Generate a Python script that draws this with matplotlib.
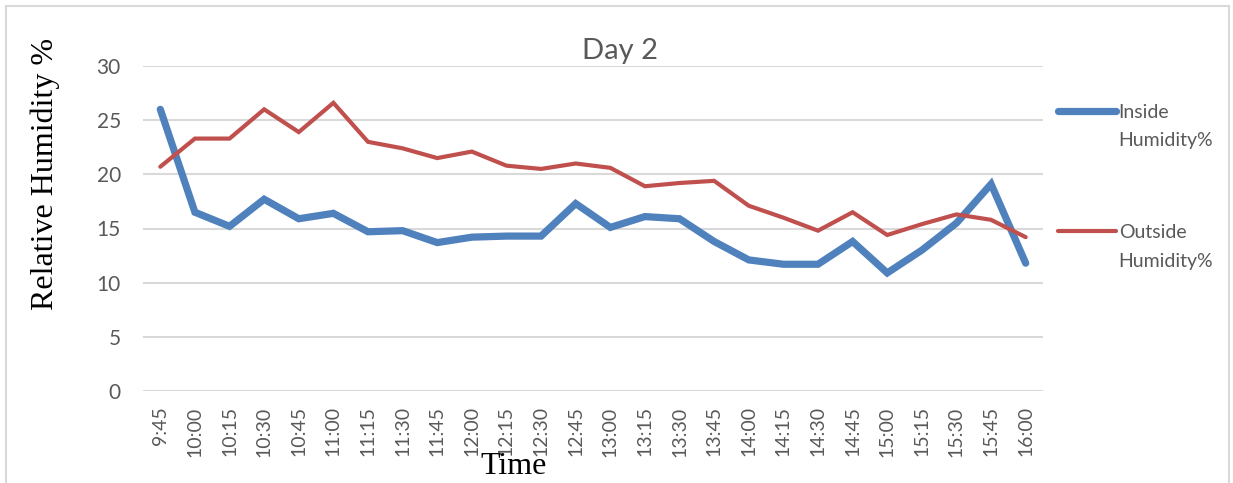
import matplotlib.pyplot as plt
from matplotlib.lines import Line2D

plt.rcParams['font.family'] = ['Lato', 'DejaVu Sans']

# data
times = ['9:45', '10:00', '10:15', '10:30', '10:45', '11:00', '11:15', '11:30',
         '11:45', '12:00', '12:15', '12:30', '12:45', '13:00', '13:15', '13:30',
         '13:45', '14:00', '14:15', '14:30', '14:45', '15:00', '15:15', '15:30',
         '15:45', '16:00']
inside = [26.0, 16.5, 15.2, 17.7, 15.9, 16.4, 14.7, 14.8, 13.7, 14.2, 14.3, 14.3,
          17.3, 15.1, 16.1, 15.9, 13.8, 12.1, 11.7, 11.7, 13.8, 10.9, 13.0, 15.5,
          19.1, 11.8]
outside = [20.7, 23.3, 23.3, 26.0, 23.9, 26.6, 23.0, 22.4, 21.5, 22.1, 20.8, 20.5,
           21.0, 20.6, 18.9, 19.2, 19.4, 17.1, 16.0, 14.8, 16.5, 14.4, 15.4, 16.3,
           15.8, 14.2]
series_names = ['Inside', 'Outside']

grey_txt = '#595959'
W, H = 1233, 483
fig = plt.figure(figsize=(W / 100, H / 100), dpi=100)
ax = fig.add_axes([143 / W, 1 - 391 / H, 900 / W, 325 / H])

x = range(len(times))
ax.plot(x, inside, color='#4F81BD', linewidth=5.2, solid_capstyle='round',
        solid_joinstyle='miter', label=series_names[0])
ax.plot(x, outside, color='#C0504D', linewidth=3.0, solid_capstyle='round',
        solid_joinstyle='miter', label=series_names[1])

ax.set_xlim(-0.5, len(times) - 0.5)
ax.set_ylim(0, 30)
ax.set_yticks(range(0, 31, 5))
ax.set_xticks(list(x))
ax.set_xticklabels(times, rotation=90)
ax.tick_params(axis='both', length=0, colors=grey_txt)
ax.tick_params(axis='x', pad=11, labelsize=14)
ax.tick_params(axis='y', pad=16, labelsize=15)
ax.grid(axis='y', color='#D9D9D9', linewidth=1.5)
ax.set_axisbelow(True)
for s in ax.spines.values():
    s.set_visible(False)

fig.text(620 / W, 1 - 59 / H, 'Day 2', fontsize=21, color=grey_txt,
         ha='center', va='baseline')
fig.text(45 / W, 1 - 174 / H, 'Relative Humidity %', rotation=90, fontsize=23,
         family='Liberation Serif', ha='center', va='center')
fig.text(514 / W, 1 - 481 / H, 'Time', fontsize=23, family='Liberation Serif',
         ha='center', va='bottom')

leg = fig.legend(loc='upper left', bbox_to_anchor=(1040 / W, 1 - 86 / H),
                 frameon=False, fontsize=14, handlelength=3.0, handletextpad=0.15,
                 labelspacing=5.3, labelcolor=grey_txt)

# second line of each legend label, under the first one
fig.canvas.draw()
renderer = fig.canvas.get_renderer()
inv = fig.transFigure.inverted()
for t in leg.get_texts():
    bb = t.get_window_extent(renderer)
    x0, y0 = inv.transform((bb.x0, bb.y0))
    fig.text(x0, y0 - 29 / H, 'Humidity%', fontsize=14, color=grey_txt,
             ha='left', va='bottom')

# light grey frame around the chart
fig.add_artist(Line2D([6 / W, 1229 / W], [1 - 6 / H, 1 - 6 / H],
                      color='#D9D9D9', linewidth=1.5))
fig.add_artist(Line2D([6 / W, 6 / W], [0, 1 - 6 / H], color='#D9D9D9', linewidth=1.5))
fig.add_artist(Line2D([1229 / W, 1229 / W], [0, 1 - 6 / H], color='#D9D9D9',
                      linewidth=1.5))

fig.savefig('out.png', dpi=100)
